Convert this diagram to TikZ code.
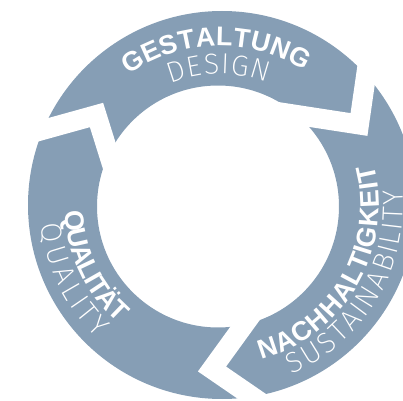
\documentclass[tikz,border=0pt]{standalone}
\usepackage{fontspec}
\newfontfamily\headfont{Liberation Sans}
\newfontfamily\subfont{Fira Sans ExtraLight}
\usetikzlibrary{decorations.text}

\definecolor{ringblue}{RGB}{134,158,181}

\tikzset{
  gap/.style={draw=white, line width=20, line join=miter, miter limit=10},
  headword/.style={decorate, decoration={text effects along path, text={#1},
      text effects/.cd, text along path, fit text to path,
      characters={text=white, font=\headfont\bfseries\fontsize{27}{27}\selectfont}}},
  subword/.style={decorate, decoration={text effects along path, text={#1},
      text effects/.cd, text along path, fit text to path,
      characters={text=white, font=\subfont\fontsize{29}{29}\selectfont}}}
}

\begin{document}
\begin{tikzpicture}[x=1bp, y=1bp]
  \useasboundingbox (0,0) rectangle (403,401);
  \clip (0,0) rectangle (403,401);

  % centres of the outer rim, the hole and the lettering
  \coordinate (oc) at (222,196);
  \coordinate (ic) at (218,194.5);
  \coordinate (tc) at (220,195);

  % the ring
  \fill[ringblue, even odd rule] (oc) circle[radius=194] (ic) circle[radius=121];

  % zigzag cuts between the three arrows
  \coordinate (a1) at (370,353);  \coordinate (a2) at (359,276.5); \coordinate (a3) at (275,289.4);
  \coordinate (b1) at (295,-25);  \coordinate (b2) at (212,32);    \coordinate (b3) at (262,101);
  \coordinate (c1) at (10,262);   \coordinate (c2) at (96.5,286);  \coordinate (c3) at (120,211);
  \draw[gap] (a1) -- (a2) -- (a3);
  \draw[gap] (b1) -- (b2) -- (b3);
  \draw[gap] (c1) -- (c2) -- (c3);

  % labels
  \path[headword=GESTALTUNG, shift={(tc)}] (125:160) arc[start angle=125, end angle=58, radius=160];
  \path[subword=DESIGN, shift={(tc)}] (112:132) arc[start angle=112, end angle=69, radius=132];

  \path[headword=QUALITÄT, shift={(tc)}] (182:155) arc[start angle=182, end angle=229, radius=155];
  \path[subword=QUALITY, shift={(tc)}] (186:180) arc[start angle=186, end angle=227, radius=180];

  \path[headword=NACHHALTIGKEIT, shift={(tc)}] (-75:159) arc[start angle=-75, end angle=15, radius=159];
  \path[subword=SUSTAINABILITY, shift={(tc)}] (-67:183) arc[start angle=-67, end angle=5, radius=183];
\end{tikzpicture}
\end{document}
